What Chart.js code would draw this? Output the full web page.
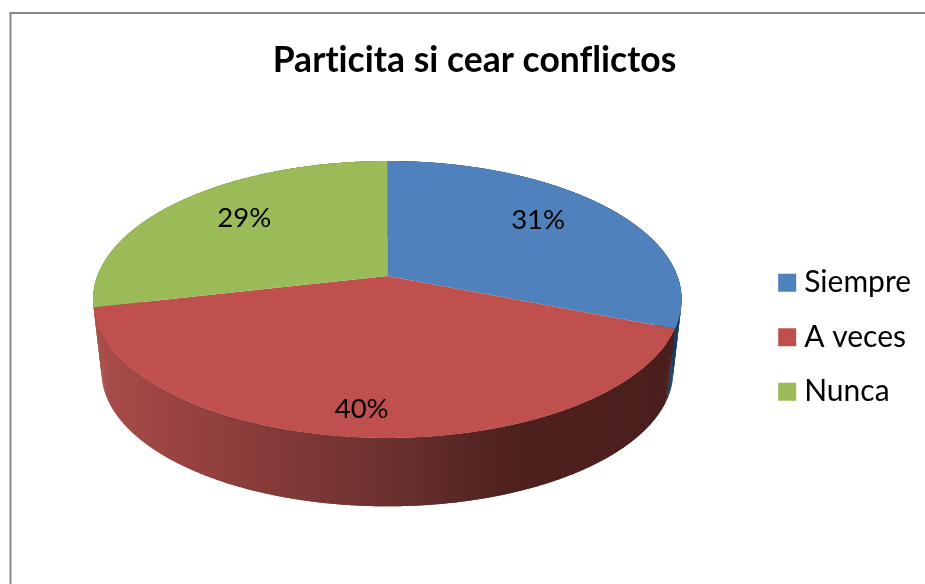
<!DOCTYPE html>
<html lang="es">

<head>
    <meta charset="UTF-8">
    <title>Particita si cear conflictos</title>
    <script src="https://cdn.jsdelivr.net/npm/chart.js"></script>
    <style>
        html, body {
            margin: 0;
            padding: 0;
            background: #ffffff;
            overflow: hidden;
        }

        canvas {
            display: block;
        }
    </style>
</head>

<body>
    <canvas id="myChart" width="925" height="584"></canvas>

    <script>
        const chartTitle = 'Particita si cear conflictos';
        const labels = ['Siempre', 'A veces', 'Nunca'];
        // the printed labels are rounded (31, 40, 29), slices read a bit finer
        const values = [31, 40.4, 28.6];

        const faceColors = ['#4f81bd', '#c0504d', '#9bbb59'];
        const fontName = 'Lato, Carlito, Calibri, sans-serif';

        // perspective of the pie: the hub sits above the middle of the ellipse
        const view = { shiftX: -7, hubY: 276, radiusX: 290, radiusY: 134.5, tilt: -0.1697, depth: 73, floorScale: 0.971 };

        // the side wall is lit from the left, dark toward the right
        const wallStops = [
            [
                [0.00, '#2a5078'],
                [1.00, '#1c3a59']
            ],
            [
                [0.00, '#aa4c49'],
                [0.30, '#853a38'],
                [0.52, '#69302e'],
                [0.70, '#4f211f'],
                [1.00, '#4a1e1c']
            ],
            [
                [0.00, '#6f8a3b'],
                [1.00, '#5f7831']
            ]
        ];

        // where the percent text goes: share of the radius, then a small nudge
        const labelRadius = [0.65, 0.85, 0.65];
        const labelNudge = [[4, -10], [-4, 0], [-5, -7]];

        function project(cx, angle, t, floor) {
            const x = Math.cos(angle) * t;
            const y = Math.sin(angle) * t;
            const w = 1 + view.tilt * y;
            const s = floor ? view.floorScale : 1;
            const hubY = floor ? view.hubY + view.depth : view.hubY;
            return {
                x: cx + s * view.radiusX * x / w,
                y: hubY + s * view.radiusY * y / w
            };
        }

        function traceRim(ctx, cx, from, to, floor) {
            const steps = Math.max(2, Math.ceil(Math.abs(to - from) / 0.01));
            for (let i = 0; i <= steps; i++) {
                const p = project(cx, from + (to - from) * i / steps, 1, floor);
                ctx.lineTo(p.x, p.y);
            }
        }

        const framePlugin = {
            id: 'frame',
            beforeDraw(chart) {
                const ctx = chart.ctx;
                ctx.letterSpacing = '0.01px'; // stops the ti / fl ligatures
                ctx.save();
                ctx.strokeStyle = '#868686';
                ctx.lineWidth = 2;
                ctx.strokeRect(10.5, 13, chart.width + 50, chart.height + 50);
                ctx.restore();
            }
        };

        const pie3dPlugin = {
            id: 'pie3d',
            beforeDatasetDraw(chart, args) {
                const ctx = chart.ctx;
                const arcs = args.meta.data;
                const cx = arcs[0].x + view.shiftX;
                const left = cx - view.radiusX;
                const right = cx + view.radiusX;

                // walls: back slices first, the front one over them
                [0, 2, 1].forEach(function (i) {
                    const gradient = ctx.createLinearGradient(left, 0, right, 0);
                    wallStops[i].forEach(function (stop) {
                        gradient.addColorStop(stop[0], stop[1]);
                    });
                    ctx.fillStyle = gradient;
                    const from = arcs[i].startAngle;
                    const to = arcs[i].endAngle;
                    const step = 0.01;
                    for (let a = from; a < to; a += step) {
                        const b = Math.min(a + step * 2, to);
                        ctx.beginPath();
                        traceRim(ctx, cx, a, b, false);
                        traceRim(ctx, cx, b, a, true);
                        ctx.closePath();
                        ctx.fill();
                    }
                });

                // top faces
                arcs.forEach(function (arc, i) {
                    ctx.beginPath();
                    ctx.moveTo(cx, view.hubY);
                    traceRim(ctx, cx, arc.startAngle, arc.endAngle, false);
                    ctx.closePath();
                    ctx.fillStyle = faceColors[i];
                    ctx.fill();
                });
                return false;
            },
            afterDatasetsDraw(chart) {
                const ctx = chart.ctx;
                const arcs = chart.getDatasetMeta(0).data;
                ctx.save();
                ctx.font = '27.5px ' + fontName;
                ctx.fillStyle = '#000000';
                ctx.textAlign = 'center';
                ctx.textBaseline = 'middle';
                arcs.forEach(function (arc, i) {
                    const mid = (arc.startAngle + arc.endAngle) / 2;
                    const p = project(arc.x + view.shiftX, mid, labelRadius[i], false);
                    ctx.fillText(Math.round(values[i]) + '%', p.x + labelNudge[i][0], p.y + labelNudge[i][1]);
                });
                ctx.restore();
            }
        };

        const ctx = document.getElementById('myChart').getContext('2d');
        const myChart = new Chart(ctx, {
            type: 'pie',
            data: {
                labels: labels,
                datasets: [{
                    data: values,
                    backgroundColor: faceColors,
                    borderWidth: 0
                }]
            },
            plugins: [framePlugin, pie3dPlugin],
            options: {
                responsive: false,
                animation: false,
                layout: {
                    padding: { left: 28, right: 4, top: 0, bottom: 71 }
                },
                plugins: {
                    title: {
                        display: true,
                        text: chartTitle,
                        color: '#000000',
                        font: { family: fontName, size: 35.5, weight: 'bold' },
                        padding: { top: 39, bottom: 80 }
                    },
                    legend: {
                        position: 'right',
                        fullSize: false,
                        labels: {
                            color: '#000000',
                            font: { family: fontName, size: 30 },
                            usePointStyle: true,
                            pointStyle: 'rect',
                            boxWidth: 4,
                            boxHeight: 18,
                            padding: 24.5
                        }
                    },
                    tooltip: {
                        enabled: false
                    }
                }
            }
        });
    </script>

</body>

</html>
